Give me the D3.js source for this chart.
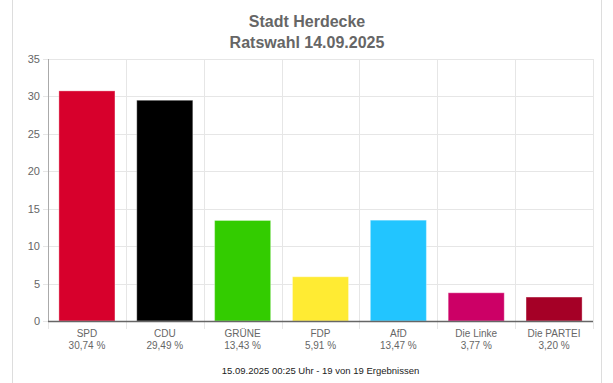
<!DOCTYPE html>
<html>
<head>
<meta charset="utf-8">
<script src="https://cdn.jsdelivr.net/npm/d3@7"></script>
<style>
  body { margin: 0; background: #fff; }
  svg { display: block; font-family: "Liberation Sans", Arial, sans-serif; }
</style>
</head>
<body>
<svg width="613" height="383"></svg>
<script>
  // Ratswahl Herdecke, Stimmanteile in %
  const parties = ["SPD", "CDU", "GRÜNE", "FDP", "AfD", "Die Linke", "Die PARTEI"];
  const shares = [30.74, 29.49, 13.43, 5.91, 13.47, 3.77, 3.2];
  const colors = ["#d7002c", "#000000", "#33cc00", "#ffeb33", "#22c5ff", "#cc0066", "#a50026"];
  const yTicks = [0, 5, 10, 15, 20, 25, 30, 35];
  const titleLines = ["Stadt Herdecke", "Ratswahl 14.09.2025"];
  const footer = "15.09.2025 00:25 Uhr - 19 von 19 Ergebnissen";

  const svg = d3.select("svg");
  const margin = { top: 59, right: 20, bottom: 62, left: 48 };
  const W = 613, H = 383;
  const w = W - margin.left - margin.right;
  const h = H - margin.top - margin.bottom;

  // frame lines left/right
  svg.append("line").attr("x1", 12.5).attr("x2", 12.5).attr("y1", 0).attr("y2", H)
    .attr("stroke", "#ddd");
  svg.append("line").attr("x1", 601.5).attr("x2", 601.5).attr("y1", 0).attr("y2", H)
    .attr("stroke", "#ddd");

  // title
  svg.append("g")
    .selectAll("text")
    .data(titleLines)
    .enter()
    .append("text")
    .attr("x", 307)
    .attr("y", (d, i) => 27 + i * 21)
    .attr("text-anchor", "middle")
    .attr("font-size", 16)
    .attr("font-weight", "bold")
    .attr("fill", "#666")
    .text(d => d);

  const g = svg.append("g").attr("transform", `translate(${margin.left},${margin.top})`);

  const x = d3.scaleBand().domain(parties).range([0, w]);
  const y = d3.scaleLinear().domain([0, 35]).range([h, 0]);

  // horizontal grid + left ticks
  g.append("g")
    .selectAll("line")
    .data(yTicks)
    .enter()
    .append("line")
    .attr("x1", -5)
    .attr("x2", w)
    .attr("y1", d => Math.round(y(d)) + 0.5)
    .attr("y2", d => Math.round(y(d)) + 0.5)
    .attr("stroke", "#e6e6e6");

  // vertical grid at band edges, running a bit below the axis
  const edges = parties.map(p => x(p)).concat([w]);
  g.append("g")
    .selectAll("line")
    .data(edges)
    .enter()
    .append("line")
    .attr("x1", d => Math.round(d) + 0.5)
    .attr("x2", d => Math.round(d) + 0.5)
    .attr("y1", 0)
    .attr("y2", h + 8)
    .attr("stroke", "#e6e6e6");

  // y axis line
  g.append("line")
    .attr("x1", 0.5).attr("x2", 0.5)
    .attr("y1", 0).attr("y2", h)
    .attr("stroke", "#aaa");

  // y labels
  g.append("g")
    .selectAll("text")
    .data(yTicks)
    .enter()
    .append("text")
    .attr("x", -8)
    .attr("y", d => y(d) + 4)
    .attr("text-anchor", "end")
    .attr("font-size", 11)
    .attr("fill", "#666")
    .text(d => d);

  // bars
  const bw = x.bandwidth() * 0.72;
  g.append("g")
    .selectAll("rect")
    .data(shares)
    .enter()
    .append("rect")
    .attr("x", (d, i) => x(parties[i]) + (x.bandwidth() - bw) / 2)
    .attr("y", d => y(d))
    .attr("width", bw)
    .attr("height", d => h - y(d))
    .attr("fill", (d, i) => colors[i])
    .attr("stroke", "rgba(255,255,255,0.35)")
    .attr("stroke-width", 1);

  // baseline
  g.append("line")
    .attr("x1", 0).attr("x2", w)
    .attr("y1", h + 0.5).attr("y2", h + 0.5)
    .attr("stroke", "#666")
    .attr("stroke-width", 1.5);

  // category labels
  const fmt = v => v.toFixed(2).replace(".", ",") + " %";
  const lab = g.append("g")
    .selectAll("text")
    .data(parties)
    .enter()
    .append("text")
    .attr("text-anchor", "middle")
    .attr("font-size", 10)
    .attr("fill", "#666")
    .attr("transform", d => `translate(${x(d) + x.bandwidth() / 2},${h + 16})`);
  lab.append("tspan").attr("x", 0).attr("y", 0).text(d => d);
  lab.append("tspan").attr("x", 0).attr("y", 12).text((d, i) => fmt(shares[i]));

  // footer
  svg.append("text")
    .attr("x", margin.left + w / 2)
    .attr("y", 374)
    .attr("text-anchor", "middle")
    .attr("font-size", 9.5)
    .attr("fill", "#222")
    .text(footer);
</script>
</body>
</html>
